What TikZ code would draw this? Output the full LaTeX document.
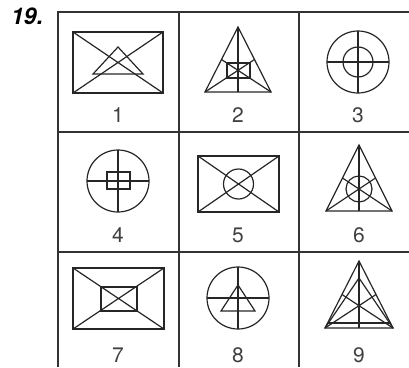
\documentclass[tikz,border=0pt]{standalone}
\usepackage{fontspec}
\setmainfont{TeX Gyre Heros}
\begin{document}
\begin{tikzpicture}[x=1pt,y=-1pt,
  fig/.style={line width=1.2pt,draw=black!85},
  grid/.style={line width=1.3pt,draw=black!80},
  lab/.style={font=\fontsize{21}{21}\selectfont,text=black!75,inner sep=0pt,anchor=center},
  num/.style={font=\fontsize{23}{23}\selectfont\bfseries\itshape,text=black,inner sep=0pt,anchor=north west}]
\useasboundingbox (0,0) rectangle (409,367);
% grid
\draw[grid] (58,367) -- (58,12) -- (409,12);
\draw[grid] (179,12) -- (179,367);
\draw[grid] (299,12) -- (299,367);
\draw[grid] (58,132) -- (409,132);
\draw[grid] (58,252) -- (409,252);
\node[num] (title) at (11,8) {19.};
% cell 1
\draw[fig] (73,32) rectangle (163,93);
\draw[fig] (73,32) -- (163,93) (73,93) -- (163,32);
\draw[fig] (118,47) -- (93,74) -- (143,74) -- cycle;
\node[lab] (l1) at (118,115) {1};
% cell 2
\draw[fig] (238,27) -- (205,92) -- (271,92) -- cycle;
\draw[fig] (238,27) -- (238,92);
\draw[fig] (205,92) -- (254.5,59.5) (271,92) -- (221.5,59.5);
\draw[fig] (227,63) rectangle (250,78);
\node[lab] (l2) at (238,115) {2};
% cell 3
\draw[fig] (358,62) circle (31) (358,62) circle (15);
\draw[fig] (327,62) -- (389,62) (358,31) -- (358,93);
\node[lab] (l3) at (358,115) {3};
% cell 4
\draw[fig] (118,181) circle (31);
\draw[fig] (107,172) rectangle (130,189);
\draw[fig] (87,181) -- (149,181) (118,150) -- (118,212);
\node[lab] (l4) at (118,235) {4};
% cell 5
\draw[fig] (198,156) rectangle (279,212);
\draw[fig] (198,156) -- (279,212) (198,212) -- (279,156);
\draw[fig] (238.5,184) circle (15);
\node[lab] (l5) at (238,235) {5};
% cell 6
\draw[fig] (359,145) -- (326,211) -- (392,211) -- cycle;
\draw[fig] (359,145) -- (359,211);
\draw[fig] (326,211) -- (375.5,178) (392,211) -- (342.5,178);
\draw[fig] (359,189) circle (13);
\node[lab] (l6) at (359,235) {6};
% cell 7
\draw[fig] (73,268) rectangle (164,329);
\draw[fig] (73,268) -- (164,329) (73,329) -- (164,268);
\draw[fig] (101,287) rectangle (137,311);
\node[lab] (l7) at (118,355) {7};
% cell 8
\draw[fig] (238,298) circle (31);
\draw[fig] (207,298) -- (269,298) (238,267) -- (238,329);
\draw[fig] (238,285) -- (221,311) -- (255,311) -- cycle;
\node[lab] (l8) at (238,355) {8};
% cell 9
\draw[fig] (359,261) -- (325,328) -- (393,328) -- cycle;
\draw[fig] (325,328) -- (359,278) -- (393,328);
\draw[fig] (359,261) -- (359,328);
\draw[fig] (325,328) -- (376,294.5) (393,328) -- (342,294.5);
\draw[fig] (327.5,323) -- (390.5,323);
\node[lab] (l9) at (359,355) {9};
\end{tikzpicture}
\end{document}
